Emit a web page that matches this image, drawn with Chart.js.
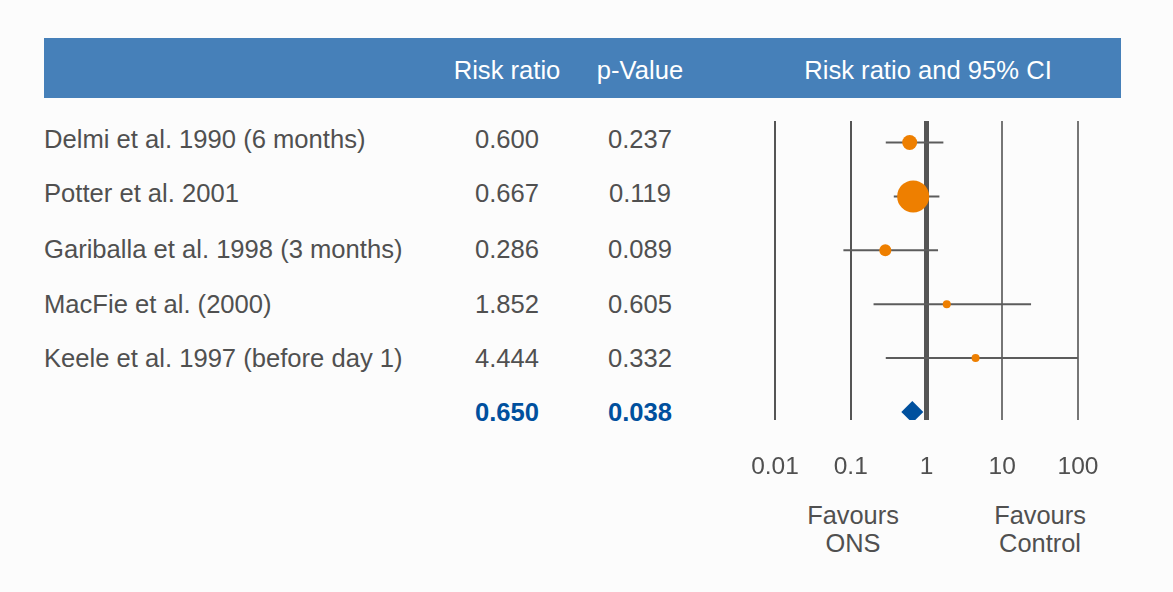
<!DOCTYPE html>
<html>
<head>
<meta charset="utf-8">
<script src="https://cdn.jsdelivr.net/npm/chart.js@4"></script>
<style>
  body { margin: 0; background: #fcfcfc; font-family: "Liberation Sans", Arial, sans-serif; color: #505050; }
  #page { position: relative; width: 1173px; height: 592px; overflow: hidden; }
  .t { position: absolute; font-size: 25.6px; line-height: 30px; white-space: nowrap; transform: translateY(-50%); }
  .c { transform: translate(-50%, -50%); text-align: center; }
  #band { position: absolute; left: 44px; top: 38px; width: 1077px; height: 60px; background: #4680b9; }
  .hd { color: #fff; }
  .sum { color: #00509e; font-weight: bold; }
  .fav { position: absolute; font-size: 25.4px; line-height: 28px; text-align: center; transform: translateX(-50%); top: 501px; }
  #plot { position: absolute; left: 740px; top: 105px; width: 380px; height: 400px; }
</style>
</head>
<body>
<div id="page">
  <div id="band"></div>
  <div id="rows"></div>
  <div class="fav" style="left:853px">Favours<br>ONS</div>
  <div class="fav" style="left:1040px">Favours<br>Control</div>
  <div id="plot"><canvas id="forestChart"></canvas></div>
</div>
<script>
// Studies and their results
const studies = ['Delmi et al. 1990 (6 months)', 'Potter et al. 2001', 'Gariballa et al. 1998 (3 months)', 'MacFie et al. (2000)', 'Keele et al. 1997 (before day 1)'];
const riskRatios = [0.600, 0.667, 0.286, 1.852, 4.444];
const pValues = ['0.237', '0.119', '0.089', '0.605', '0.332'];
const ciLower = [0.29, 0.37, 0.08, 0.20, 0.29];
const ciUpper = [1.67, 1.48, 1.42, 24, 100];
const weights = [7.5, 16, 6, 4, 4];
const pooledRatio = 0.650;
const pooledP = '0.038';
const tickValues = [0.01, 0.1, 1, 10, 100];
const tickLabels = ['0.01', '0.1', '1', '10', '100'];

// Table text (header + rows)
const rowY = [139, 193, 249, 304, 358, 412];
const rows = document.getElementById('rows');
function addText(txt, x, y, cls) {
  const d = document.createElement('div');
  d.className = 't ' + cls;
  d.style.left = x + 'px';
  d.style.top = y + 'px';
  d.textContent = txt;
  rows.appendChild(d);
}
addText('Risk ratio', 507, 70, 'c hd');
addText('p-Value', 640, 70, 'c hd');
addText('Risk ratio and 95% CI', 928, 70, 'c hd');
studies.forEach((s, i) => {
  addText(s, 44, rowY[i], '');
  addText(riskRatios[i].toFixed(3), 507, rowY[i], 'c');
  addText(pValues[i], 640, rowY[i], 'c');
});
addText(pooledRatio.toFixed(3), 507, rowY[5], 'c sum');
addText(pooledP, 640, rowY[5], 'c sum');

// Forest plot
const ciSets = studies.map((s, i) => ({
  type: 'scatter',
  showLine: true,
  data: [{ x: ciLower[i], y: i + 1 }, { x: ciUpper[i], y: i + 1 }],
  borderColor: '#5c5c5c',
  borderWidth: 2,
  pointRadius: 0,
  order: 3
}));

const ctx = document.getElementById('forestChart').getContext('2d');
new Chart(ctx, {
  type: 'scatter',
  data: {
    datasets: [
      {
        data: riskRatios.map((v, i) => ({ x: v, y: i + 1 })),
        pointRadius: weights,
        backgroundColor: '#ee7f00',
        borderWidth: 0,
        order: 1
      },
      {
        data: [{ x: pooledRatio, y: 6 }],
        pointStyle: 'rectRot',
        pointRadius: 11,
        backgroundColor: '#00509e',
        borderWidth: 0,
        order: 1
      },
      ...ciSets
    ]
  },
  options: {
    responsive: true,
    maintainAspectRatio: false,
    animation: false,
    layout: { padding: { left: 35, right: 42, top: 8, bottom: 25 } },
    plugins: { legend: { display: false }, tooltip: { enabled: false } },
    scales: {
      x: {
        type: 'logarithmic',
        min: 0.01,
        max: 100,
        afterBuildTicks: s => { s.ticks = tickValues.map(v => ({ value: v })); },
        afterFit: s => { s.height = 60; s.paddingLeft = 0; s.paddingRight = 0; },
        border: { display: false },
        grid: {
          drawTicks: false,
          color: c => (c.tick && c.tick.value >= 10) ? '#767676' : '#555555',
          lineWidth: c => (c.tick && c.tick.value === 1) ? 5 : 2
        },
        ticks: {
          padding: 33,
          color: '#505050',
          font: { family: 'Liberation Sans', size: 24.5 },
          maxRotation: 0,
          callback: (v, i) => tickLabels[i]
        }
      },
      y: {
        type: 'linear',
        display: false,
        reverse: true,
        min: 0.6,
        max: 6.15
      }
    }
  }
});
</script>
</body>
</html>
